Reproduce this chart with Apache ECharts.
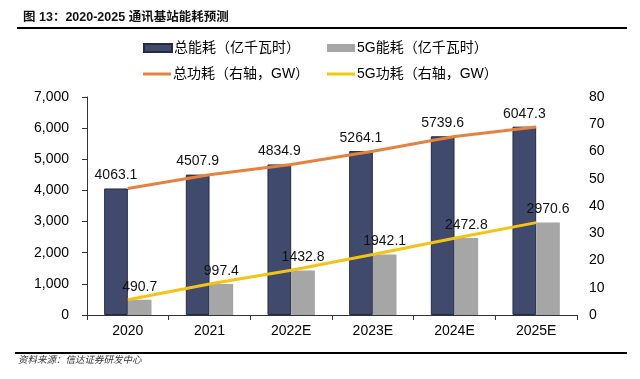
<!DOCTYPE html>
<html>
<head>
<meta charset="utf-8">
<script src="https://cdn.jsdelivr.net/npm/echarts@6/dist/echarts.min.js"></script>
<style>
html,body{margin:0;padding:0;background:#fff;}
#c{width:640px;height:379px;}
</style>
</head>
<body>
<div id="c"></div>
<script>
const titleText = '图 13：2020-2025 通讯基站能耗预测';
const sourceText = '资料来源：信达证券研发中心';
const categories = ['2020', '2021', '2022E', '2023E', '2024E', '2025E'];
const totalEnergy = [4063.1, 4507.9, 4834.9, 5264.1, 5739.6, 6047.3];
const energy5G = [490.7, 997.4, 1432.8, 1942.1, 2472.8, 2970.6];
const totalPower = [46.4, 51.5, 55.2, 60.1, 65.5, 69.0];
const power5G = [5.6, 11.4, 16.4, 22.2, 28.2, 33.9];
const seriesNames = ['总能耗（亿千瓦时）', '5G能耗（亿千瓦时）', '总功耗（右轴，GW）', '5G功耗（右轴，GW）'];

const FONT = '"Liberation Sans", Arial, "Noto Sans CJK SC", sans-serif';
const chart = echarts.init(document.getElementById('c'), null, {renderer: 'canvas'});

const legendBase = {
  orient: 'horizontal',
  itemGap: 0,
  textStyle: {fontSize: 14, color: '#000', fontFamily: FONT, padding: [0, 0, 0, -3]},
  selectedMode: false
};

chart.setOption({
  animation: false,
  backgroundColor: '#fff',
  title: {
    text: titleText,
    left: 18, top: 6,
    textStyle: {fontSize: 12.5, fontWeight: 'bold', color: '#111', fontFamily: FONT}
  },
  legend: [
    Object.assign({}, legendBase, {data: [seriesNames[0]], left: 138, top: 36, itemWidth: 28, itemHeight: 8, icon: 'rect'}),
    Object.assign({}, legendBase, {data: [seriesNames[1]], left: 322, top: 36, itemWidth: 28, itemHeight: 8, icon: 'rect'}),
    Object.assign({}, legendBase, {data: [seriesNames[2]], left: 138, top: 62, itemWidth: 28, itemHeight: 3, icon: 'rect'}),
    Object.assign({}, legendBase, {data: [seriesNames[3]], left: 322, top: 62, itemWidth: 28, itemHeight: 3, icon: 'rect'})
  ],
  grid: {left: 87, right: 63, top: 97, bottom: 64, containLabel: false},
  xAxis: {
    type: 'category',
    data: categories,
    boundaryGap: true,
    axisLine: {show: true, lineStyle: {color: '#333', width: 1}},
    axisTick: {show: true, length: 5, alignWithLabel: false, lineStyle: {color: '#333'}},
    axisLabel: {fontSize: 14, color: '#000', fontFamily: FONT, margin: 9}
  },
  yAxis: [
    {
      type: 'value', min: 0, max: 7000, interval: 1000,
      axisLine: {show: true, lineStyle: {color: '#333', width: 1}},
      axisTick: {show: true, length: 5, lineStyle: {color: '#333'}},
      splitLine: {show: false},
      axisLabel: {fontSize: 14, color: '#000', fontFamily: FONT, margin: 18,
        formatter: v => v.toLocaleString('en-US')}
    },
    {
      type: 'value', min: 0, max: 80, interval: 10,
      axisLine: {show: false},
      axisTick: {show: false},
      splitLine: {show: false},
      axisLabel: {fontSize: 14, color: '#000', fontFamily: FONT, margin: 12}
    }
  ],
  series: [
    {
      name: seriesNames[0], type: 'bar', data: totalEnergy,
      barGap: '0%', barCategoryGap: '42%',
      itemStyle: {color: '#3f4a6c', borderColor: '#232b45', borderWidth: 1},
      label: {show: true, position: 'top', distance: 6, fontSize: 14, color: '#111', fontFamily: FONT,
        formatter: p => p.value.toFixed(1)},
      z: 2
    },
    {
      name: seriesNames[1], type: 'bar', data: energy5G,
      barGap: '0%', barCategoryGap: '42%',
      itemStyle: {color: '#a6a6a6'},
      label: {show: true, position: 'top', distance: 6, fontSize: 14, color: '#111', fontFamily: FONT,
        formatter: p => p.value.toFixed(1)},
      z: 2
    },
    {
      name: seriesNames[2], type: 'line', yAxisIndex: 1, data: totalPower,
      symbol: 'none', lineStyle: {color: '#e5823d', width: 3}, itemStyle: {color: '#e5823d'}, z: 5
    },
    {
      name: seriesNames[3], type: 'line', yAxisIndex: 1, data: power5G,
      symbol: 'none', lineStyle: {color: '#f2c414', width: 3}, itemStyle: {color: '#f2c414'}, z: 5
    }
  ],
  graphic: [
    {type: 'line', shape: {x1: 17, y1: 28, x2: 627, y2: 28}, style: {stroke: '#000', lineWidth: 2}},
    {type: 'line', shape: {x1: 15, y1: 353, x2: 627, y2: 353}, style: {stroke: '#000', lineWidth: 2}},
    {type: 'text', left: 18, top: 356, style: {text: sourceText, fontSize: 9.5, fontStyle: 'italic', fill: '#333', fontFamily: FONT}}
  ]
});
</script>
</body>
</html>
